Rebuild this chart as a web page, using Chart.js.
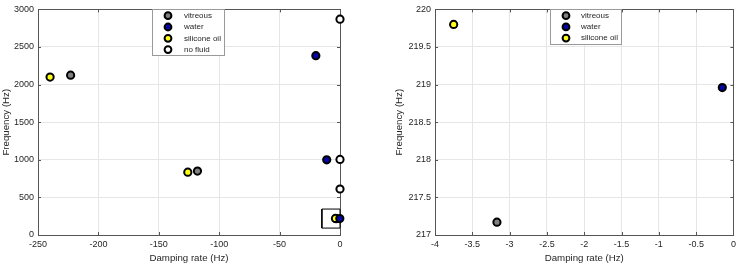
<!DOCTYPE html>
<html>
<head>
<meta charset="utf-8">
<script src="https://cdn.jsdelivr.net/npm/chart.js@4/dist/chart.umd.min.js"></script>
<style>
    body { margin: 0; background: #fff; }
    .painel { position: absolute; top: 0; width: 370px; height: 266px; }
</style>
</head>
<body>
<div class="painel" style="left:0"><canvas id="graficoGeral" width="370" height="266"></canvas></div>
<div class="painel" style="left:370px"><canvas id="graficoZoom" width="370" height="266"></canvas></div>
<script>
// dados (damping rate x frequencia)
const nomesSeries = ['vitreous', 'water', 'silicone oil', 'no fluid'];
const coresSeries = ['#808080', '#0606a6', '#ffff14', '#ffffff'];

const dampVitreous = [-223, -118, -3.17];
const freqVitreous = [2125, 850, 217.17];
const dampWater = [-20, -11, -0.15];
const freqWater = [2385, 1000, 218.96];
const dampSilicone = [-240, -126, -3.75];
const freqSilicone = [2100, 835, 219.8];
const dampNoFluid = [0, 0, 0];
const freqNoFluid = [2870, 1005, 612];

// retangulo da regiao ampliada
const caixaX = [-15, 0, 0, -15, -15];
const caixaY = [92, 92, 345, 345, 92];

const fonte = "'Liberation Sans', Arial, sans-serif";
const corTexto = '#262626';

function pontos(xs, ys) {
    return xs.map((x, i) => ({ x: x, y: ys[i] }));
}

function serie(i, xs, ys, ordem) {
    return {
        label: nomesSeries[i],
        data: pontos(xs, ys),
        backgroundColor: coresSeries[i],
        borderColor: '#000',
        borderWidth: 2,
        pointRadius: 3.6,
        pointHoverRadius: 3.6,
        showLine: false,
        clip: false,
        order: ordem,
        noLegend: false
    };
}

// contorno dos eixos com marcas para dentro (estilo matlab)
const pluginCaixa = {
    id: 'caixa',
    beforeDatasetsDraw(chart) {
        const { ctx, chartArea: a, scales } = chart;
        ctx.save();
        ctx.strokeStyle = '#555';
        ctx.lineWidth = 1;
        ctx.beginPath();
        scales.x.ticks.forEach(t => {
            const px = Math.round(scales.x.getPixelForValue(t.value)) + 0.5;
            ctx.moveTo(px, a.bottom); ctx.lineTo(px, a.bottom - 3);
            ctx.moveTo(px, a.top); ctx.lineTo(px, a.top + 3);
        });
        scales.y.ticks.forEach(t => {
            const py = Math.round(scales.y.getPixelForValue(t.value)) + 0.5;
            ctx.moveTo(a.left, py); ctx.lineTo(a.left + 3, py);
            ctx.moveTo(a.right, py); ctx.lineTo(a.right - 3, py);
        });
        ctx.stroke();
        ctx.strokeRect(Math.round(a.left) + 0.5, Math.round(a.top) + 0.5,
            Math.round(a.right - a.left), Math.round(a.bottom - a.top));
        ctx.restore();
    }
};

// legenda dentro da area do grafico
const pluginLegenda = {
    id: 'legendaInterna',
    afterDraw(chart, args, opts) {
        const { ctx } = chart;
        const itens = chart.data.datasets.filter(d => !d.noLegend);
        ctx.save();
        ctx.fillStyle = '#fff';
        ctx.fillRect(opts.x, opts.y, opts.w, opts.h);
        ctx.strokeStyle = '#9a9a9a';
        ctx.lineWidth = 1;
        ctx.strokeRect(opts.x + 0.5, opts.y + 0.5, opts.w, opts.h);
        ctx.font = '8px ' + fonte;
        ctx.textBaseline = 'middle';
        itens.forEach((d, i) => {
            const yy = opts.y + opts.primeira + i * opts.passo;
            ctx.beginPath();
            ctx.arc(opts.x + opts.marca, yy, 3.4, 0, Math.PI * 2);
            ctx.fillStyle = d.backgroundColor;
            ctx.fill();
            ctx.lineWidth = 2;
            ctx.strokeStyle = '#000';
            ctx.stroke();
            ctx.fillStyle = corTexto;
            ctx.fillText(d.label, opts.x + opts.texto, yy);
        });
        ctx.restore();
    }
};

function eixos(xMin, xMax, xPasso, yMin, yMax, yPasso, larguraY) {
    const formato = v => String(Math.round(v * 10) / 10);
    return {
        x: {
            type: 'linear', min: xMin, max: xMax,
            ticks: { stepSize: xPasso, autoSkip: false, maxRotation: 0, padding: 4, color: corTexto, font: { family: fonte, size: 9 }, callback: formato },
            grid: { color: '#e6e6e6', drawTicks: false },
            border: { display: false },
            title: { display: true, text: 'Damping rate (Hz)', color: corTexto, font: { family: fonte, size: 9.7 }, padding: { top: 0, bottom: 2 } },
            afterFit: s => { s.height = 31; }
        },
        y: {
            type: 'linear', min: yMin, max: yMax,
            ticks: { stepSize: yPasso, autoSkip: false, padding: 4, color: corTexto, font: { family: fonte, size: 9 }, callback: formato },
            grid: { color: '#e6e6e6', drawTicks: false },
            border: { display: false },
            title: { display: true, text: 'Frequency (Hz)', color: corTexto, font: { family: fonte, size: 9.7 }, padding: { top: 1, bottom: 0 } },
            afterFit: s => { s.width = larguraY; }
        }
    };
}

const opcoesBase = {
    responsive: false,
    animation: false,
    devicePixelRatio: 1,
    plugins: { legend: { display: false }, tooltip: { enabled: false } }
};

// grafico completo
let graficoGeral = new Chart(document.getElementById('graficoGeral'), {
    type: 'scatter',
    data: {
        datasets: [
            serie(0, dampVitreous, freqVitreous, 3),
            serie(1, dampWater, freqWater, 1),
            serie(2, dampSilicone, freqSilicone, 2),
            serie(3, dampNoFluid, freqNoFluid, 0),
            {
                label: 'zoom',
                data: pontos(caixaX, caixaY),
                showLine: true,
                borderColor: '#000',
                borderWidth: 1,
                pointRadius: 0,
                fill: false,
                clip: false,
                order: 5,
                noLegend: true
            }
        ]
    },
    options: Object.assign({}, opcoesBase, {
        layout: { padding: { top: 6, right: 30, left: 0, bottom: 0 } },
        scales: eixos(-250, 0, 50, 0, 3000, 500, 38),
        plugins: Object.assign({}, opcoesBase.plugins, {
            legendaInterna: { x: 152, y: 9, w: 72, h: 46, marca: 16, texto: 32, primeira: 6.7, passo: 11.3 }
        })
    }),
    plugins: [pluginCaixa, pluginLegenda]
});

// grafico ampliado (modo mais baixo)
let graficoZoom = new Chart(document.getElementById('graficoZoom'), {
    type: 'scatter',
    data: {
        datasets: [
            serie(0, dampVitreous.slice(2), freqVitreous.slice(2), 2),
            serie(1, dampWater.slice(2), freqWater.slice(2), 0),
            serie(2, dampSilicone.slice(2), freqSilicone.slice(2), 1)
        ]
    },
    options: Object.assign({}, opcoesBase, {
        layout: { padding: { top: 6, right: 5, left: 23, bottom: 0 } },
        scales: eixos(-4, 0, 0.5, 217, 220, 0.5, 42),
        plugins: Object.assign({}, opcoesBase.plugins, {
            legendaInterna: { x: 180, y: 9, w: 71, h: 35, marca: 16, texto: 31, primeira: 6.7, passo: 11.2 }
        })
    }),
    plugins: [pluginCaixa, pluginLegenda]
});
</script>
</body>
</html>
